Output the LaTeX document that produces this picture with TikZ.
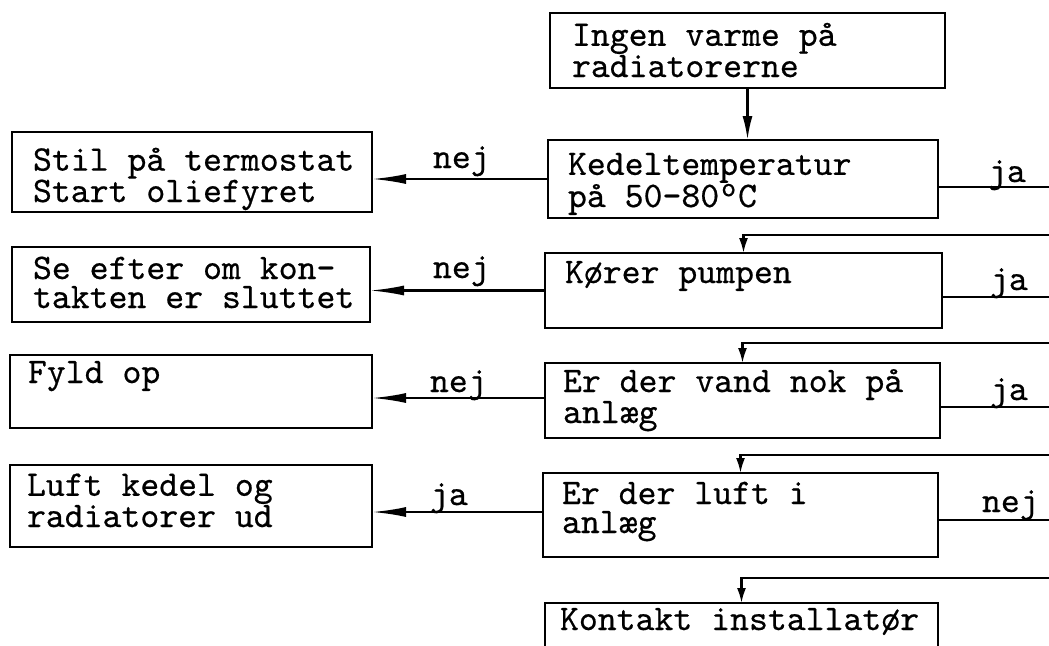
\documentclass[tikz,border=0pt]{standalone}
\usepackage{fontspec}
\setmonofont{lmmono10-regular.otf}[RawFeature={embolden=0.5}]
\usetikzlibrary{arrows.meta}
\begin{document}
\begin{tikzpicture}[x=1pt,y=-1pt,
  box/.style={draw=black,line width=2.8pt,rectangle,inner sep=0pt,outer sep=0pt,anchor=north west},
  txt/.style={inner sep=0pt,outer sep=0pt,anchor=base west,align=left,
    font=\fontsize{36}{29}\selectfont\ttfamily},
  conn/.style={draw=black,line width=2.3pt},
  leftarr/.style={conn,-{Latex[length=34pt,width=10pt]}},
  downarr/.style={conn,-{Latex[length=15pt,width=9pt]}},
  toparr/.style={conn,-{Latex[length=24pt,width=10pt]}}]
\useasboundingbox (0,0) rectangle (1049,645);
\clip (0,0) rectangle (1049,645);
% main column boxes
\node[box,minimum width=395pt,minimum height=75pt] (b1) at (550,13) {};
\node[box,minimum width=390pt,minimum height=78pt] (b2) at (548,140) {};
\node[box,minimum width=397pt,minimum height=75pt] (b3) at (545,253) {};
\node[box,minimum width=395pt,minimum height=75pt] (b4) at (545,363) {};
\node[box,minimum width=395pt,minimum height=84pt] (b5) at (543,473) {};
\node[box,minimum width=393pt,minimum height=70pt] (b6) at (545,603) {};
% left column boxes
\node[box,minimum width=360pt,minimum height=80pt] (l1) at (12,132) {};
\node[box,minimum width=358pt,minimum height=75pt] (l2) at (12,247) {};
\node[box,minimum width=362pt,minimum height=73pt] (l3) at (10,355) {};
\node[box,minimum width=362pt,minimum height=82pt] (l4) at (10,465) {};
% texts (anchor = baseline of last line)
\node[txt] (t1) at (572,77) {Ingen varme på\\radiatorerne};
\node[txt] (t2) at (568,207) {Kedeltemperatur\\på 50-80\makebox[0.525em]{\raisebox{0.3em}{\fontsize{28}{28}\selectfont o}}C};
\node[txt] (t3) at (565,283) {Kører pumpen};
\node[txt] (t4) at (563,423) {Er der vand nok på\\anlæg};
\node[txt] (t5) at (562,533) {Er der luft i\\anlæg};
\node[txt] (t6) at (560,630) {Kontakt installatør};
\node[txt] (s1) at (33,202) {Stil på termostat\\Start oliefyret};
\node[txt] (s2) at (33,308) {Se efter om kon-\\takten er sluttet};
\node[txt] (s3) at (28,383) {Fyld op};
\node[txt] (s4) at (27,527) {Luft kedel og\\radiatorer ud};
% labels
\node[txt] (n1) at (433,168) {nej};
\node[txt] (n2) at (433,278) {nej};
\node[txt] (n3) at (430,392) {nej};
\node[txt] (n4) at (430,505) {ja};
\node[txt] (j1) at (988,182) {ja};
\node[txt] (j2) at (990,290) {ja};
\node[txt] (j3) at (990,400) {ja};
\node[txt] (j4) at (982,512) {nej};
% right edge coordinates
\coordinate (e1) at (1060,187);
\coordinate (e2) at (1060,297);
\coordinate (e3) at (1060,407);
\coordinate (e4) at (1060,520);
\coordinate (r1) at (1060,235);
\coordinate (r2) at (1060,343);
\coordinate (r3) at (1060,455);
\coordinate (r4) at (1060,578);
% connectors
\draw[toparr] (b1.south) -- (b1.south |- b2.north);
\draw[leftarr] (b2.west) -- (b2.west -| l1.east);
\draw[leftarr] (b3.west) -- (b3.west -| l2.east);
\draw[leftarr] (b4.west |- {(0,398)}) -- (l3.east |- {(0,398)});
\draw[leftarr] (b5.west |- {(0,512)}) -- (l4.east |- {(0,512)});
\draw[conn] (b2.east |- e1) -- (e1);
\draw[conn] (b3.east |- e2) -- (e2);
\draw[conn] (b4.east |- e3) -- (e3);
\draw[conn] (b5.east |- e4) -- (e4);
\draw[downarr] (r1) -| (b3.north);
\draw[downarr] (r2) -| (b4.north);
\draw[downarr] (r3) -| (b5.north);
\draw[downarr] (r4) -| (b6.north);
\end{tikzpicture}
\end{document}
